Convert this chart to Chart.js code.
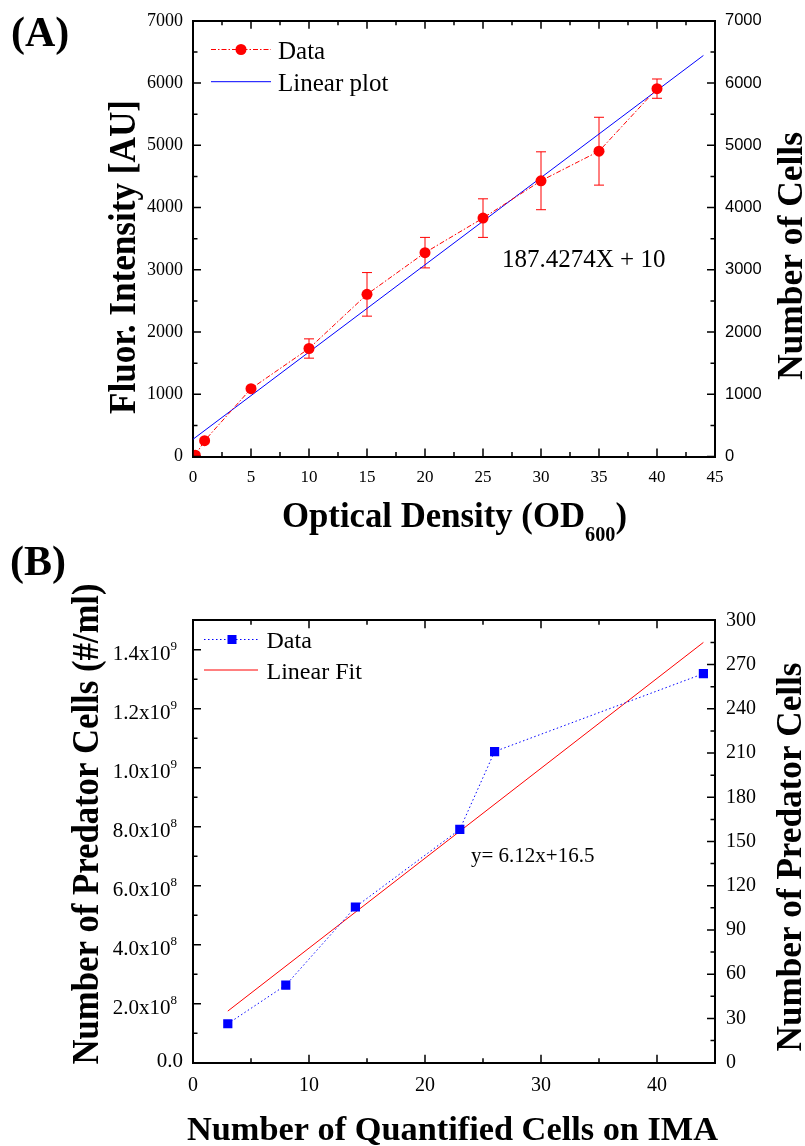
<!DOCTYPE html>
<html><head><meta charset="utf-8">
<script src="https://cdn.jsdelivr.net/npm/chart.js@4/dist/chart.umd.min.js"></script>
<style>
html,body{margin:0;padding:0;background:#fff;}
#wrap{position:relative;width:805px;height:1146px;}
canvas{position:absolute;left:0;top:0;}
</style></head><body>
<div id="wrap"><canvas id="cA" width="805" height="1146"></canvas><canvas id="cB" width="805" height="1146"></canvas></div>
<script>
// ---------- Panel A data ----------
const odValues    = [0.2, 1, 5, 10, 15, 20, 25, 30, 35, 40];
const fluorValues = [20, 255, 1090, 1735, 2605, 3275, 3830, 4430, 4905, 5910];
const fluorErrors = [0, 0, 0, 155, 350, 245, 310, 465, 545, 155];
const linearPlotX = [0, 44];
const linearPlotY = [277, 6443];
const xTicksA = [0, 5, 10, 15, 20, 25, 30, 35, 40, 45];
const xMinorA = [2.5, 7.5, 12.5, 17.5, 22.5, 27.5, 32.5, 37.5, 42.5];
const yTicksA = [0, 1000, 2000, 3000, 4000, 5000, 6000, 7000];
const yMinorA = [500, 1500, 2500, 3500, 4500, 5500, 6500];
const legendA = ['Data', 'Linear plot'];
const equationA = '187.4274X + 10';
const titlesA = { panel: '(A)', x: 'Optical Density (OD', xSub: '600', xEnd: ')', y: 'Fluor. Intensity [AU]', y2: 'Number of Cells' };

// ---------- Panel B data ----------
const imaCounts     = [3, 8, 14, 23, 26, 44];
const predatorCells = [1.32e8, 2.63e8, 5.28e8, 7.91e8, 1.055e9, 1.319e9];
const fitX = [3, 44];
const fitY = [1.75e8, 1.425e9];
const xTicksB  = [0, 10, 20, 30, 40];
const xMinorB  = [5, 15, 25, 35];
const yTicksB  = [0, 2e8, 4e8, 6e8, 8e8, 1e9, 1.2e9, 1.4e9];
const yMinorB  = [1e8, 3e8, 5e8, 7e8, 9e8, 1.1e9, 1.3e9];
const y2TicksB = [0, 30, 60, 90, 120, 150, 180, 210, 240, 270, 300];
const y2MinorB = [15, 45, 75, 105, 135, 165, 195, 225, 255, 285];
const legendB = ['Data', 'Linear Fit'];
const equationB = 'y= 6.12x+16.5';
const titlesB = { panel: '(B)', x: 'Number of Quantified Cells on IMA', y: 'Number of Predator Cells (#/ml)', y2: 'Number of Predator Cells' };

const SERIF = '"Liberation Serif", "Times New Roman", serif';
const SANS = '"Liberation Sans", Arial, sans-serif';

function fixTicks(values) { return function (scale) { scale.ticks = values.map(v => ({ value: v })); }; }

function drawInward(chart, id, majors, minors, side) {
  const s = chart.scales[id], a = chart.chartArea, ctx = chart.ctx;
  ctx.save(); ctx.strokeStyle = '#000'; ctx.lineWidth = 1.5; ctx.setLineDash([]);
  ctx.beginPath();
  const one = (v, len) => {
    const p = s.getPixelForValue(v);
    if (side === 'bottom') { ctx.moveTo(p, a.bottom); ctx.lineTo(p, a.bottom - len); }
    if (side === 'top') { ctx.moveTo(p, a.top); ctx.lineTo(p, a.top + len); }
    if (side === 'left') { ctx.moveTo(a.left, p); ctx.lineTo(a.left + len, p); }
    if (side === 'right') { ctx.moveTo(a.right, p); ctx.lineTo(a.right - len, p); }
  };
  majors.forEach(v => one(v, 8));
  minors.forEach(v => one(v, 4.5));
  ctx.stroke(); ctx.restore();
}

// draw segments of text, centered at (cx), baseline at local y=0, optionally rotated & fitted to a width
function drawRich(ctx, segs, cx, cy, target, rot) {
  let total = 0;
  segs.forEach(s => { ctx.font = s.font; s.w = ctx.measureText(s.text).width; total += s.w; });
  const c = target ? target / total : 1;
  ctx.save(); ctx.translate(cx, cy); if (rot) ctx.rotate(rot); ctx.scale(c, 1);
  ctx.fillStyle = '#000'; ctx.textAlign = 'left'; ctx.textBaseline = 'alphabetic';
  let x = -total / 2;
  segs.forEach(s => { ctx.font = s.font; ctx.fillText(s.text, x, s.dy || 0); x += s.w; });
  ctx.restore();
}
function text(ctx, t, x, y, font, align) {
  ctx.save(); ctx.font = font; ctx.fillStyle = '#000'; ctx.textAlign = align || 'left'; ctx.textBaseline = 'alphabetic';
  ctx.fillText(t, x, y); ctx.restore();
}

const axisCommon = {
  type: 'linear',
  grid: { display: false, drawTicks: false },
  border: { display: true, color: '#000', width: 2 },
};

// ---------- Panel A ----------
const pluginA = {
  id: 'panelA',
  beforeDatasetsDraw(chart) {
    const ctx = chart.ctx, xs = chart.scales.x, ys = chart.scales.y;
    ctx.save(); ctx.strokeStyle = '#ff0000'; ctx.lineWidth = 1; ctx.setLineDash([]);
    ctx.beginPath();
    odValues.forEach((x, i) => {
      const e = fluorErrors[i]; if (!e) return;
      const px = xs.getPixelForValue(x);
      const t = ys.getPixelForValue(fluorValues[i] + e), b = ys.getPixelForValue(fluorValues[i] - e);
      ctx.moveTo(px, t); ctx.lineTo(px, b);
      ctx.moveTo(px - 5, t); ctx.lineTo(px + 5, t);
      ctx.moveTo(px - 5, b); ctx.lineTo(px + 5, b);
    });
    ctx.stroke(); ctx.restore();
  },
  afterDraw(chart) {
    const ctx = chart.ctx;
    drawInward(chart, 'x', xTicksA, xMinorA, 'bottom');
    drawInward(chart, 'x2', xTicksA, xMinorA, 'top');
    drawInward(chart, 'y', yTicksA, yMinorA, 'left');
    drawInward(chart, 'y2', yTicksA, yMinorA, 'right');
    // legend
    ctx.save();
    ctx.strokeStyle = '#ff0000'; ctx.lineWidth = 1; ctx.setLineDash([5, 2, 1.5, 2]);
    ctx.beginPath(); ctx.moveTo(211, 49.5); ctx.lineTo(271, 49.5); ctx.stroke();
    ctx.setLineDash([]); ctx.fillStyle = '#ff0000';
    ctx.beginPath(); ctx.arc(241, 49.5, 5.5, 0, Math.PI * 2); ctx.fill();
    ctx.strokeStyle = '#0000ff';
    ctx.beginPath(); ctx.moveTo(211, 81.7); ctx.lineTo(271, 81.7); ctx.stroke();
    ctx.restore();
    text(ctx, legendA[0], 278, 58.5, '25px ' + SERIF);
    text(ctx, legendA[1], 278, 91, '25px ' + SERIF);
    text(ctx, equationA, 502, 266.5, '25px ' + SERIF);
    // panel label & titles
    text(ctx, titlesA.panel, 11, 46, 'bold 42px ' + SERIF);
    drawRich(ctx, [
      { text: titlesA.x, font: 'bold 36px ' + SERIF },
      { text: titlesA.xSub, font: 'bold 21px ' + SERIF, dy: 14 },
      { text: titlesA.xEnd, font: 'bold 36px ' + SERIF }
    ], 454.5, 527, 345);
    drawRich(ctx, [{ text: titlesA.y, font: 'bold 38px ' + SERIF }], 135, 257, 314, -Math.PI / 2);
    drawRich(ctx, [{ text: titlesA.y2, font: 'bold 36px ' + SERIF }], 802, 256, 248, -Math.PI / 2);
  }
};

new Chart(document.getElementById('cA'), {
  type: 'scatter',
  data: {
    datasets: [
      { label: legendA[0], data: odValues.map((x, i) => ({ x, y: fluorValues[i] })), showLine: true,
        borderColor: '#ff0000', borderWidth: 1, borderDash: [5, 2, 1.5, 2], pointRadius: 5.5,
        pointBackgroundColor: '#ff0000', pointBorderWidth: 0, clip: 0 },
      { label: legendA[1], data: linearPlotX.map((x, i) => ({ x, y: linearPlotY[i] })), showLine: true,
        borderColor: '#0000ff', borderWidth: 1, pointRadius: 0, clip: 0 }
    ]
  },
  options: {
    responsive: false, animation: false, devicePixelRatio: 1,
    layout: { padding: { left: 133, right: 30, top: 10, bottom: 649.5 } },
    plugins: { legend: { display: false }, tooltip: { enabled: false } },
    scales: {
      x: Object.assign({}, axisCommon, { position: 'bottom', min: 0, max: 45, afterBuildTicks: fixTicks(xTicksA),
        afterFit(s) { s.height = 40; },
        ticks: { color: '#000', font: { family: SERIF, size: 17 }, padding: 11, maxRotation: 0, autoSkip: false, callback: v => String(v) } }),
      x2: Object.assign({}, axisCommon, { position: 'top', min: 0, max: 45, afterBuildTicks: fixTicks(xTicksA),
        afterFit(s) { s.height = 6; }, ticks: { display: false } }),
      y: Object.assign({}, axisCommon, { position: 'left', min: 0, max: 7000, afterBuildTicks: fixTicks(yTicksA),
        afterFit(s) { s.width = 60; },
        ticks: { color: '#000', font: { family: SERIF, size: 18 }, padding: 10, autoSkip: false, callback: v => String(v) } }),
      y2: Object.assign({}, axisCommon, { position: 'right', min: 0, max: 7000, afterBuildTicks: fixTicks(yTicksA),
        afterFit(s) { s.width = 60; },
        ticks: { color: '#000', font: { family: SANS, size: 16.5 }, padding: 10, autoSkip: false, callback: v => String(v) } })
    }
  },
  plugins: [pluginA]
});

// ---------- Panel B ----------
const pluginB = {
  id: 'panelB',
  afterDraw(chart) {
    const ctx = chart.ctx;
    drawInward(chart, 'x', xTicksB, xMinorB, 'bottom');
    drawInward(chart, 'x2', xTicksB, xMinorB, 'top');
    drawInward(chart, 'y', yTicksB, yMinorB, 'left');
    drawInward(chart, 'y2', y2TicksB, y2MinorB, 'right');
    // left tick labels with superscript exponents
    const ys = chart.scales.y;
    ctx.save(); ctx.fillStyle = '#000'; ctx.textBaseline = 'alphabetic';
    yTicksB.forEach(v => {
      const py = ys.getPixelForValue(v);
      if (v === 0) {
        ctx.font = '21px ' + SERIF; ctx.textAlign = 'right'; ctx.fillText('0.0', 183, py + 4); return;
      }
      const ex = Math.floor(Math.log10(v) + 1e-9);
      const mant = (v / Math.pow(10, ex)).toFixed(1);
      ctx.font = '13px ' + SERIF; const supW = ctx.measureText(String(ex)).width;
      ctx.textAlign = 'left'; ctx.fillText(String(ex), 177 - supW, py);
      ctx.font = '21px ' + SERIF; ctx.textAlign = 'right'; ctx.fillText(mant + 'x10', 177 - supW, py + 10);
    });
    ctx.restore();
    // legend
    ctx.save();
    ctx.strokeStyle = '#0000ff'; ctx.lineWidth = 1; ctx.setLineDash([1.5, 2.5]);
    ctx.beginPath(); ctx.moveTo(204, 639.5); ctx.lineTo(258, 639.5); ctx.stroke();
    ctx.setLineDash([]); ctx.fillStyle = '#0000ff'; ctx.fillRect(232 - 4.5, 639.5 - 4.5, 9, 9);
    ctx.strokeStyle = '#ff0000';
    ctx.beginPath(); ctx.moveTo(204, 670); ctx.lineTo(258, 670); ctx.stroke();
    ctx.restore();
    text(ctx, legendB[0], 266.5, 647.5, '24px ' + SERIF);
    text(ctx, legendB[1], 266.5, 678.5, '24px ' + SERIF);
    text(ctx, equationB, 471, 862, '21px ' + SERIF);
    text(ctx, titlesB.panel, 10, 575, 'bold 42px ' + SERIF);
    drawRich(ctx, [{ text: titlesB.x, font: 'bold 34px ' + SERIF }], 452.5, 1140, 531);
    drawRich(ctx, [{ text: titlesB.y, font: 'bold 38px ' + SERIF }], 98, 824, 481, -Math.PI / 2);
    drawRich(ctx, [{ text: titlesB.y2, font: 'bold 36px ' + SERIF }], 801, 857, 389, -Math.PI / 2);
  }
};

new Chart(document.getElementById('cB'), {
  type: 'scatter',
  data: {
    datasets: [
      { label: legendB[0], data: imaCounts.map((x, i) => ({ x, y: predatorCells[i] })), showLine: true,
        borderColor: '#0000ff', borderWidth: 1, borderDash: [1.5, 2.5], pointStyle: 'rect', pointRadius: 6.5,
        pointBackgroundColor: '#0000ff', pointBorderWidth: 0 },
      { label: legendB[1], data: fitX.map((x, i) => ({ x, y: fitY[i] })), showLine: true,
        borderColor: '#ff0000', borderWidth: 1, pointRadius: 0 }
    ]
  },
  options: {
    responsive: false, animation: false, devicePixelRatio: 1,
    layout: { padding: { left: 133, right: 30, top: 614.3, bottom: 43.3 } },
    plugins: { legend: { display: false }, tooltip: { enabled: false } },
    scales: {
      x: Object.assign({}, axisCommon, { position: 'bottom', min: 0, max: 45, afterBuildTicks: fixTicks(xTicksB),
        afterFit(s) { s.height = 40; },
        ticks: { color: '#000', font: { family: SERIF, size: 20 }, padding: 11, maxRotation: 0, autoSkip: false, callback: v => String(v) } }),
      x2: Object.assign({}, axisCommon, { position: 'top', min: 0, max: 45, afterBuildTicks: fixTicks(xTicksB),
        afterFit(s) { s.height = 6; }, ticks: { display: false } }),
      y: Object.assign({}, axisCommon, { position: 'left', min: 0, max: 1.5e9, afterBuildTicks: fixTicks(yTicksB),
        afterFit(s) { s.width = 60; }, ticks: { display: false } }),
      y2: Object.assign({}, axisCommon, { position: 'right', min: 0, max: 300, afterBuildTicks: fixTicks(y2TicksB),
        afterFit(s) { s.width = 60; },
        ticks: { color: '#000', font: { family: SERIF, size: 20 }, padding: 11, autoSkip: false, callback: v => String(v) } })
    }
  },
  plugins: [pluginB]
});
</script>
</body></html>
